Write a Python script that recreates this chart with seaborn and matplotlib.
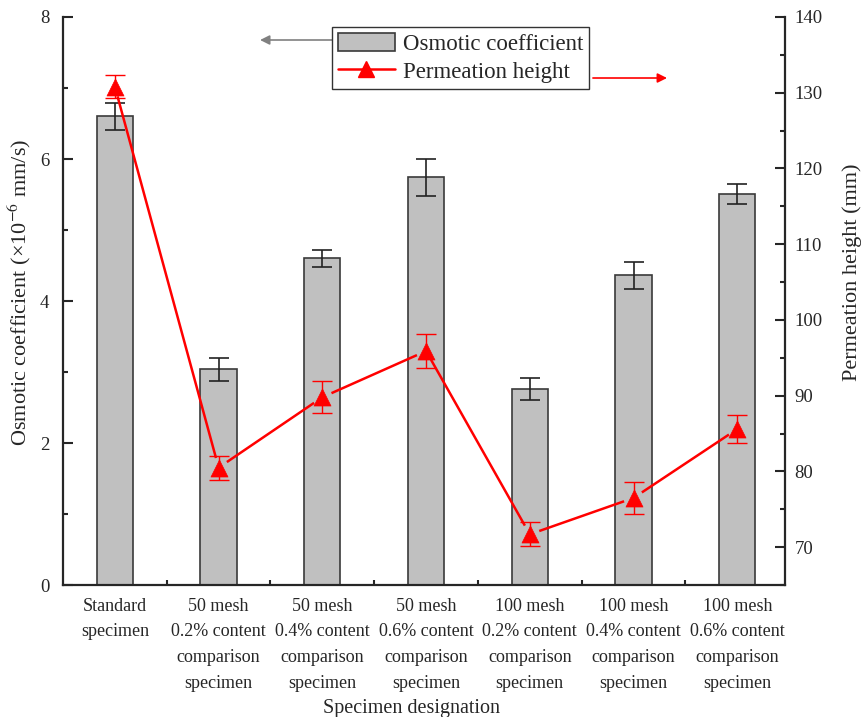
import numpy as np
import pandas as pd
import matplotlib
matplotlib.use("Agg")
import matplotlib.pyplot as plt
import seaborn as sns
from matplotlib.lines import Line2D
from matplotlib.patches import Patch
from matplotlib.ticker import MultipleLocator, FixedLocator

# ---- data -------------------------------------------------------------
specimens = [
    "Standard\nspecimen",
    "50 mesh\n0.2% content\ncomparison\nspecimen",
    "50 mesh\n0.4% content\ncomparison\nspecimen",
    "50 mesh\n0.6% content\ncomparison\nspecimen",
    "100 mesh\n0.2% content\ncomparison\nspecimen",
    "100 mesh\n0.4% content\ncomparison\nspecimen",
    "100 mesh\n0.6% content\ncomparison\nspecimen",
]
osmotic = [6.60, 3.04, 4.60, 5.74, 2.76, 4.36, 5.51]          # x10^-6 mm/s
osmotic_err = [0.19, 0.16, 0.12, 0.26, 0.16, 0.19, 0.14]
perm_height = [130.8, 80.5, 89.8, 95.9, 71.7, 76.5, 85.6]     # mm
perm_height_err = [1.5, 1.6, 2.1, 2.3, 1.6, 2.1, 1.9]

df = pd.DataFrame({"specimen": specimens, "osmotic": osmotic})
xpos = np.arange(len(specimens))

# ---- style ------------------------------------------------------------
sns.set_theme(style="ticks")
plt.rcParams["font.family"] = ["Liberation Serif", "DejaVu Serif"]
plt.rcParams["mathtext.fontset"] = "stix"

fig = plt.figure(figsize=(8.61, 7.17), dpi=100)
ax = fig.add_axes([0.0732, 0.184, 0.8385, 0.7923])

sns.barplot(data=df, x="specimen", y="osmotic", ax=ax, color="#C0C0C0",
            saturation=1, width=0.35, edgecolor="#3a3a3a", linewidth=1.2,
            errorbar=None)
ax.errorbar(xpos, osmotic, yerr=osmotic_err, fmt="none", ecolor="#222222",
            elinewidth=1.2, capsize=7.5, capthick=1.2, zorder=3)

ax2 = ax.twinx()

# ---- axes -------------------------------------------------------------
ax.set_xlim(-0.5, 6.46)
ax.set_ylim(0, 8)
ax2.set_ylim(65, 140)

# connecting line, drawn as segments that stop short of each marker
fig.canvas.draw()
pts = ax2.transData.transform(np.column_stack([xpos, perm_height]))
gap_px = 10.0
for p0, p1 in zip(pts[:-1], pts[1:]):
    d = p1 - p0
    u = d / np.hypot(*d)
    seg = np.vstack([p0 + u * gap_px, p1 - u * gap_px])
    seg_data = ax2.transData.inverted().transform(seg)
    ax2.plot(seg_data[:, 0], seg_data[:, 1], color="red", linewidth=1.8,
             zorder=4, solid_capstyle="butt")

sns.scatterplot(x=xpos, y=perm_height, ax=ax2, marker="^", s=150,
                color="red", edgecolor="red", linewidth=0.5, zorder=5)
ax2.errorbar(xpos, perm_height, yerr=perm_height_err, fmt="none",
             ecolor="red", elinewidth=1.0, capsize=7.5, capthick=1.0, zorder=4)
ax2.set_ylim(65, 140)

ax.yaxis.set_major_locator(MultipleLocator(2))
ax.yaxis.set_minor_locator(MultipleLocator(1))
ax2.set_yticks(np.arange(70, 141, 10))
ax2.yaxis.set_minor_locator(MultipleLocator(5))
ax.xaxis.set_minor_locator(FixedLocator(np.arange(0.5, 6.0, 1.0)))

for a in (ax, ax2):
    a.tick_params(which="major", direction="in", length=7, width=1.5,
                  labelsize=13.5, pad=7)
    a.tick_params(which="minor", direction="in", length=3.5, width=1.5)
    for s in a.spines.values():
        s.set_linewidth(1.6)
    a.spines["top"].set_visible(False)
ax.spines["right"].set_visible(False)
ax2.spines["left"].set_visible(False)
ax2.spines["bottom"].set_visible(False)
ax.tick_params(axis="x", which="major", labelsize=13, pad=9)
ax.tick_params(axis="y", which="major", pad=10)

for lbl in ax.get_xticklabels():
    lbl.set_linespacing(1.68)

ax.set_xlabel("Specimen designation", fontsize=14.5)
ax.xaxis.set_label_coords(0.483, -0.2)
ax.set_ylabel("Osmotic coefficient (\u00d710$^{-6}$ mm/s)", fontsize=16)
ax.yaxis.set_label_coords(-0.042, 0.515)
ax2.set_ylabel("Permeation height (mm)", fontsize=16)
ax2.yaxis.set_label_coords(1.079, 0.55)

# ---- legend -----------------------------------------------------------
handles = [
    Patch(facecolor="#C0C0C0", edgecolor="#3a3a3a", linewidth=1.2,
          label="Osmotic coefficient"),
    Line2D([], [], color="red", linewidth=1.8, marker="^", markersize=12,
           label="Permeation height"),
]
leg = ax.legend(handles=handles, loc="upper left",
                bbox_to_anchor=(0.3726, 0.982), borderaxespad=0,
                fontsize=16.5, frameon=True, fancybox=False, framealpha=1,
                edgecolor="#333333", handlelength=2.5, handleheight=0.85,
                borderpad=0.25, labelspacing=0.25, handletextpad=0.35)
leg.get_frame().set_linewidth(1.0)

# arrows pointing to the axis each series belongs to
ax.annotate("", xy=(0.2729, 0.9595), xytext=(0.3726, 0.9595),
            xycoords="axes fraction",
            arrowprops=dict(arrowstyle="-|>", color="gray", lw=1.2,
                            mutation_scale=14, shrinkA=0, shrinkB=0))
ax.annotate("", xy=(0.8366, 0.8926), xytext=(0.734, 0.8926),
            xycoords="axes fraction",
            arrowprops=dict(arrowstyle="-|>", color="red", lw=1.2,
                            mutation_scale=14, shrinkA=0, shrinkB=0))

fig.savefig("out.png", dpi=100)
